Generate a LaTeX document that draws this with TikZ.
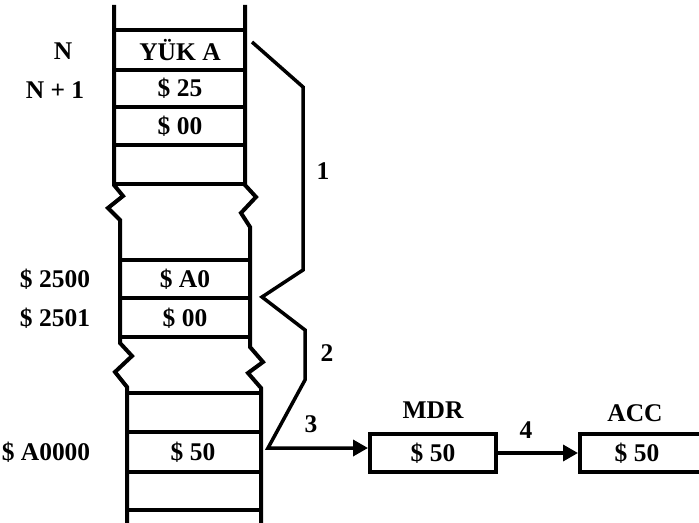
\documentclass[tikz,border=0pt]{standalone}
\usepackage{fontspec}
\setmainfont{Liberation Serif}
\usetikzlibrary{arrows.meta,positioning}
\tikzset{
    cell text/.style={
        inner sep=0pt,
        font=\bfseries\fontsize{14.5}{17}\selectfont
    },
    register/.style={
        draw,line width=0.08cm,
        minimum width=2.52cm,minimum height=0.78cm,
        inner sep=0pt,
        font=\bfseries\fontsize{14.5}{17}\selectfont
    },
    mem line/.style={line width=0.08cm},
    step line/.style={line width=0.07cm},
    >={Triangle[length=0.3cm,width=0.32cm]}
}
\begin{document}
\begin{tikzpicture}[x=0.02cm,y=-0.02cm]
\useasboundingbox (0,0) rectangle (699,523);
% memory column with its two breaks
\draw[mem line] (114,5) -- (114,185) -- (123,196) -- (108,208) -- (120,220) -- (120,343)
    -- (132,356) -- (115,372) -- (127,387) -- (127,523);
\draw[mem line] (245,5) -- (245,185) -- (256,197) -- (241,213) -- (250,227) -- (250,347)
    -- (263,362) -- (248,373) -- (261,388) -- (261,523);
\foreach \y in {30,70,107,145,184}
    \draw[mem line] (114,\y) -- (245,\y);
\foreach \y in {260,298,337}
    \draw[mem line] (120,\y) -- (250,\y);
\foreach \y in {393,432,472,510}
    \draw[mem line] (127,\y) -- (261,\y);

% cell contents and addresses
\foreach \name/\x/\y/\txt in {yuka/180/50/YÜK A,c25/180/88/\$ 25,c00/180/126/\$ 00,
                             ca0/185/279/\$ A0,cb00/185/318/\$ 00,c50/193/452/\$ 50}
    \node[cell text] (cell_\name) at (\x,\y) {\txt};
\foreach \name/\x/\y/\txt in {n/63/51/N,n1/55/90/N + 1,a2500/55/279/\$ 2500,
                             a2501/55/318/\$ 2501,a0000/46/452/\$ A0000}
    \node[cell text] (addr_\name) at (\x,\y) {\txt};

% registers
\node[register] (mdr) at (433,453) {\$ 50};
\node[register,anchor=west] (acc) at (578,453) {\hspace*{-0.24cm}\$ 50};
\node[cell text,above=0.25cm of mdr] (mdr_label) {MDR};
\node[cell text] (acc_label) at (635,413) {ACC};

% steps
\coordinate (brace_start) at (252,42);
\coordinate (turn3) at (268,448);
\draw[step line,->] (brace_start) -- (303,87) -- (303,270) -- (262,297) -- (305,330)
    -- (305,380) -- (turn3) -- (turn3 -| mdr.west);
\draw[step line,->] (mdr.east) -- (acc.west);
\foreach \i/\x/\y in {1/323/171,2/327/353,3/311/424,4/526/430}
    \node[cell text] (step_\i) at (\x,\y) {\i};
\end{tikzpicture}
\end{document}
